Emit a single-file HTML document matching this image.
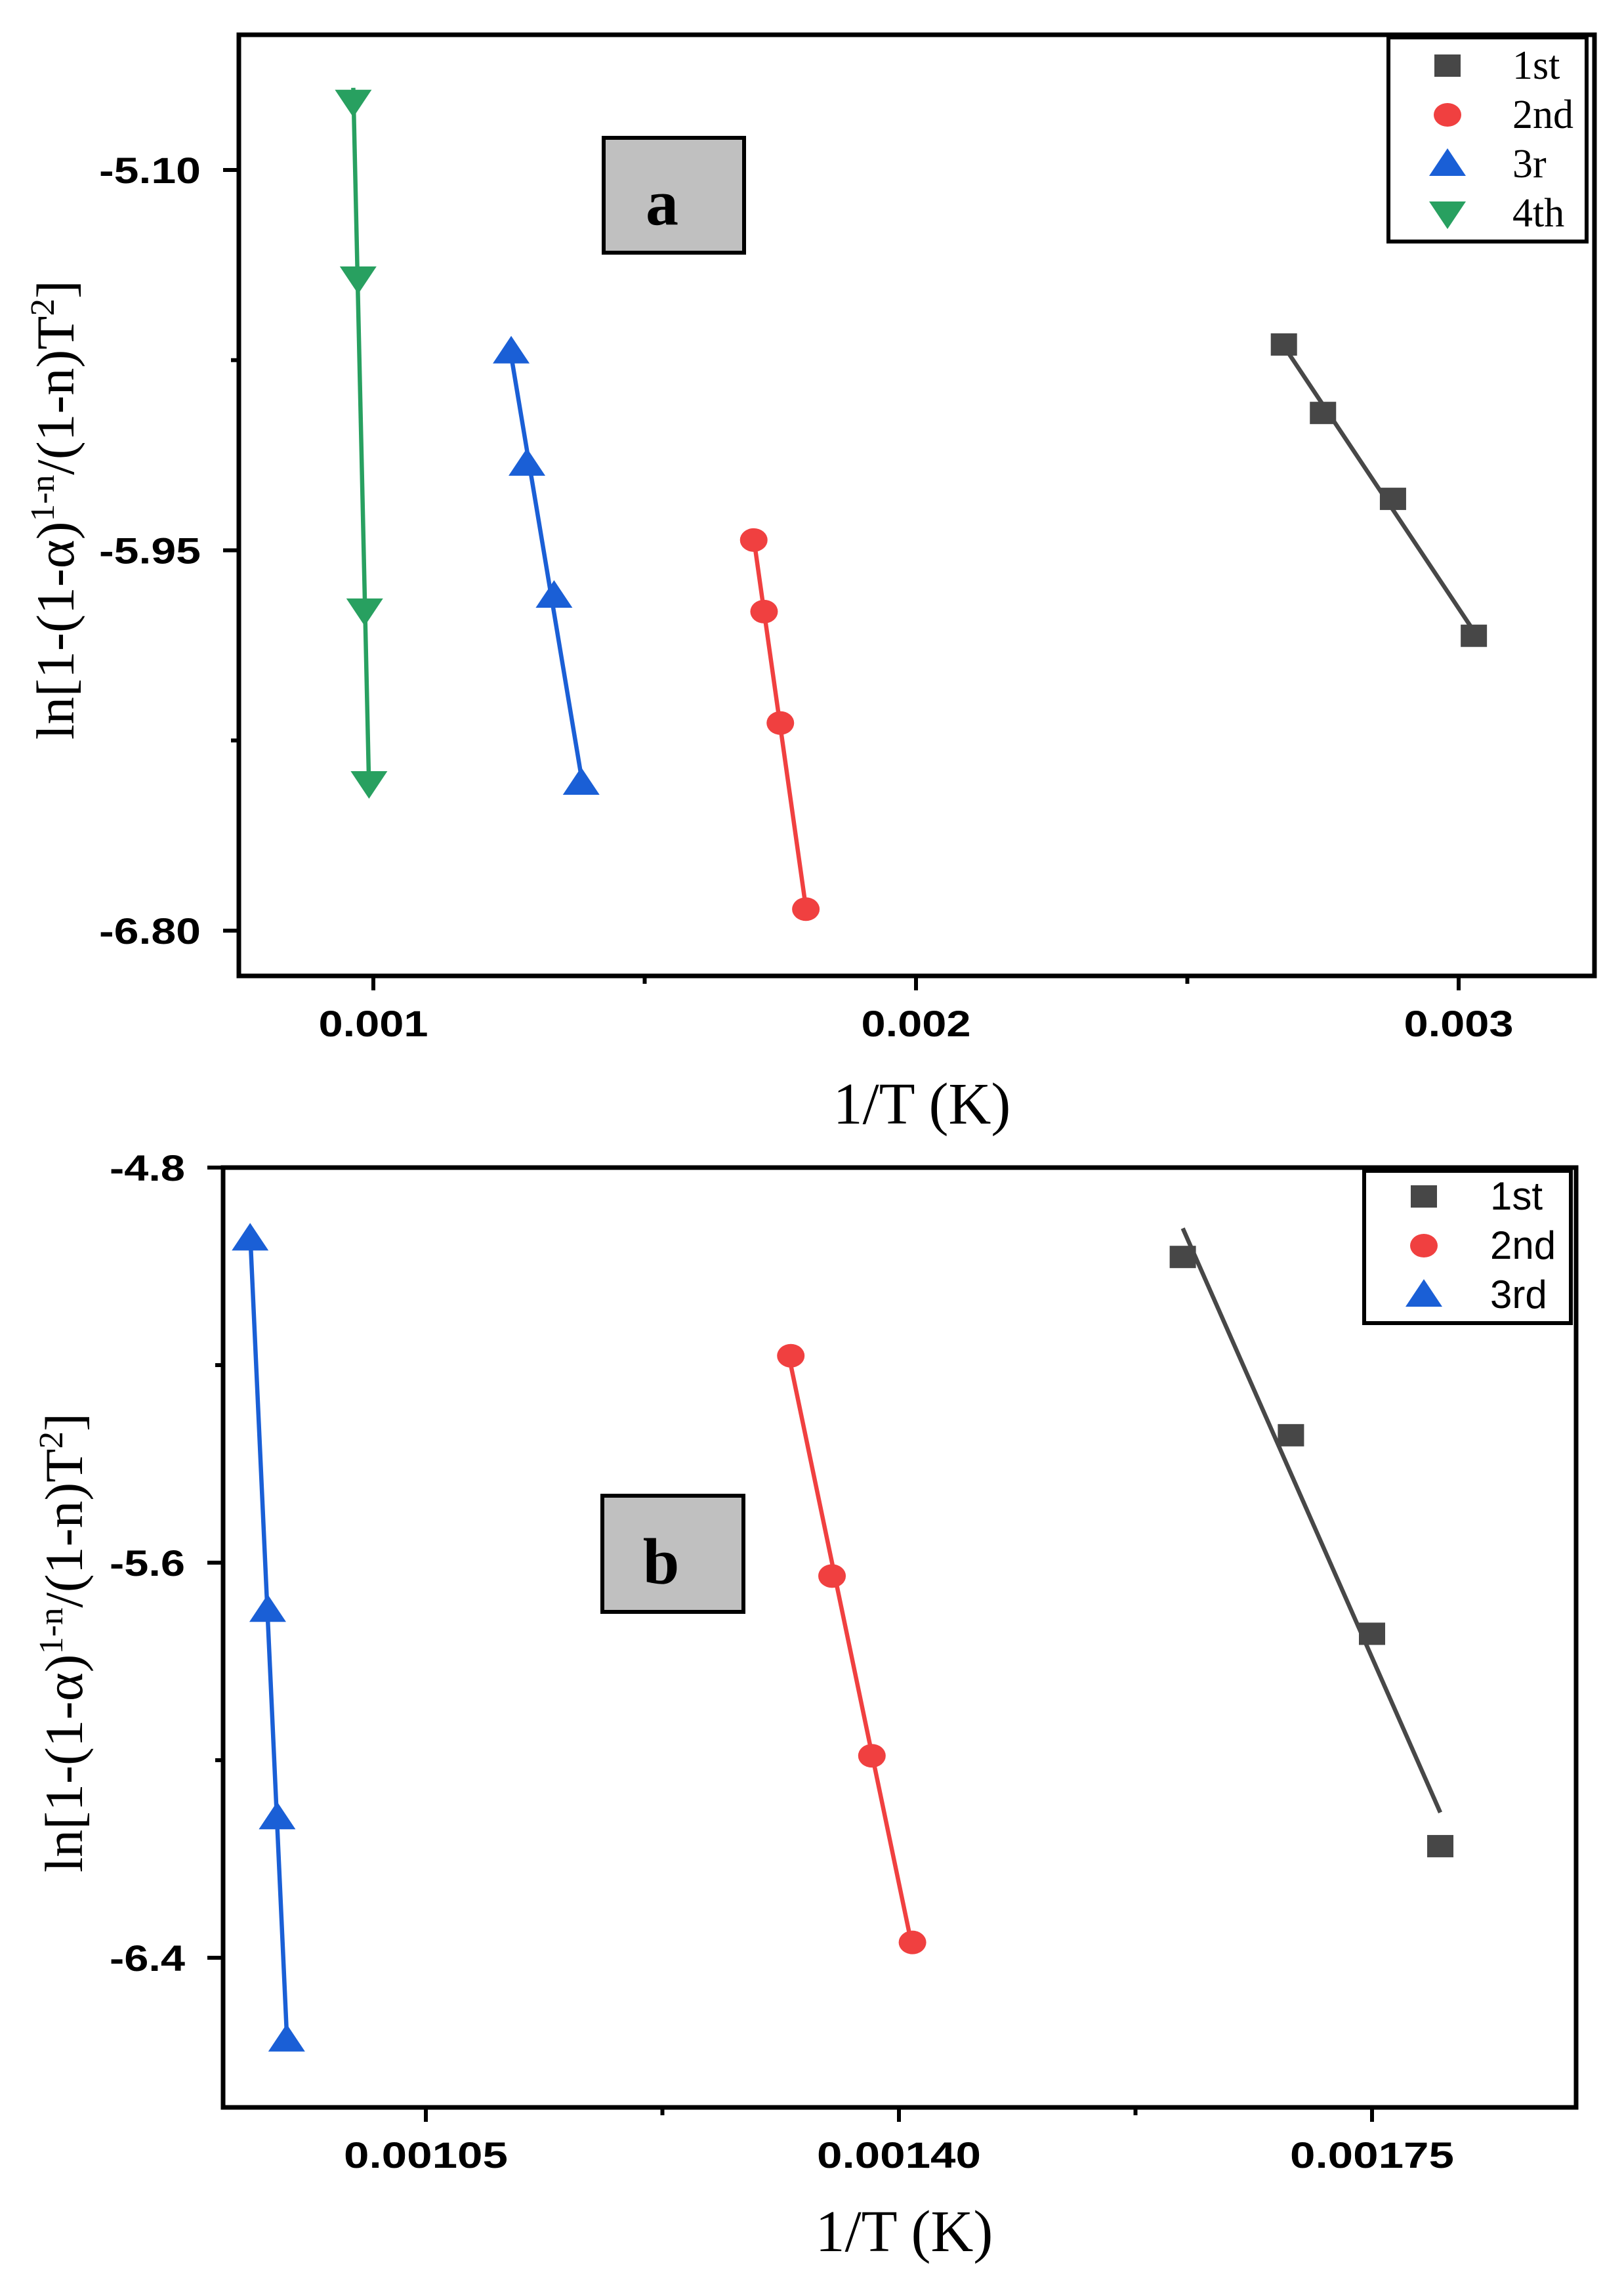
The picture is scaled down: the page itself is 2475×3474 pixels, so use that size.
<!DOCTYPE html>
<html><head><meta charset="utf-8"><style>
html,body{margin:0;padding:0;background:#fff}
svg{display:block}
</style></head><body>
<svg id="fig" xmlns="http://www.w3.org/2000/svg" width="2475" height="3474" viewBox="0 0 2475 3474">
<rect width="2475" height="3474" fill="#fff"/>
</svg>
<script>
// ---- Panel a data ----
const aSeriesNames = ["1st","2nd","3r","4th"];
const a1stX = [0.002678,0.002750,0.002879,0.003028];
const a1stY = [-5.490,-5.643,-5.835,-6.141];
const a2ndX = [0.001701,0.001720,0.001750,0.001797];
const a2ndY = [-5.927,-6.087,-6.336,-6.752];
const a3rX = [0.001254,0.001283,0.001333,0.001383];
const a3rY = [-5.506,-5.757,-6.052,-6.470];
const a4thX = [0.000963,0.000972,0.000984,0.000992];
const a4thY = [-4.947,-5.342,-6.084,-6.470];
const aXTicks = [0.001,0.002,0.003];
const aXTickLabels = ["0.001","0.002","0.003"];
const aYTicks = [-5.10,-5.95,-6.80];
const aYTickLabels = ["-5.10","-5.95","-6.80"];
// ---- Panel b data ----
const bSeriesNames = ["1st","2nd","3rd"];
const b1stX = [0.001610,0.001690,0.001750,0.0018005];
const b1stY = [-4.981,-5.342,-5.744,-6.174];
const b2ndX = [0.001320,0.0013505,0.001380,0.001410];
const b2ndY = [-5.181,-5.627,-5.991,-6.369];
const b3rdX = [0.000920,0.000933,0.000940,0.000947];
const b3rdY = [-4.944,-5.696,-6.116,-6.566];
const bXTicks = [0.00105,0.00140,0.00175];
const bXTickLabels = ["0.00105","0.00140","0.00175"];
const bYTicks = [-4.8,-5.6,-6.4];
const bYTickLabels = ["-4.8","-5.6","-6.4"];

const NS="http://www.w3.org/2000/svg";
const svg=document.getElementById('fig');
function mk(tag,attrs,parent){const e=document.createElementNS(NS,tag);for(const k in attrs)e.setAttribute(k,attrs[k]);(parent||svg).appendChild(e);return e;}
const COLORS={sq:"#474747",ci:"#f04040",up:"#1a5fd6",dn:"#28a060"};

function marker(g,type,cx,cy,name){
  let e;
  if(type==='sq'){e=mk('rect',{x:cx-20,y:cy-17,width:40,height:34,fill:COLORS.sq},g);}
  else if(type==='ci'){e=mk('ellipse',{cx:cx,cy:cy,rx:21,ry:18,fill:COLORS.ci},g);}
  else if(type==='up'){e=mk('polygon',{points:`${cx},${cy-24} ${cx+28},${cy+18} ${cx-28},${cy+18}`,fill:COLORS.up},g);}
  else {e=mk('polygon',{points:`${cx},${cy+24} ${cx+28},${cy-18} ${cx-28},${cy-18}`,fill:COLORS.dn},g);}
  
  
  return e;
}

function panel(P){
  const g=mk('g',{});
  
  
  const X=v=>P.x0px+(v-P.x0v)*P.xs;
  const Y=v=>P.y0px+(v-P.y0v)*P.ys;
  const fr=mk('rect',{x:P.L,y:P.T,width:P.R-P.L,height:P.B-P.T,fill:'none',stroke:'#000','stroke-width':7},g);
  
  
  P.xTicks.forEach((t,i)=>{
    const px=X(t);
    const l=mk('line',{x1:px,y1:P.B,x2:px,y2:P.B+22,stroke:'#000','stroke-width':6},g);
    
    
    const tx=mk('text',{x:px,y:P.B+92,'text-anchor':'middle','font-family':'Liberation Sans, sans-serif','font-weight':'bold','font-size':56,textLength:P.xLabW,lengthAdjust:'spacingAndGlyphs'},g);
    tx.textContent=P.xLabels[i];
    
    
    if(i<P.xTicks.length-1){
      const m=X((P.xTicks[i]+P.xTicks[i+1])/2);
      const ml=mk('line',{x1:m,y1:P.B,x2:m,y2:P.B+12,stroke:'#000','stroke-width':6},g);
      
      
    }
  });
  P.yTicks.forEach((t,i)=>{
    const py=Y(t);
    const l=mk('line',{x1:P.L-24,y1:py,x2:P.L,y2:py,stroke:'#000','stroke-width':6},g);
    
    
    const tx=mk('text',{x:P.L-58,y:py+20,'text-anchor':'end','font-family':'Liberation Sans, sans-serif','font-weight':'bold','font-size':56,textLength:P.yLabW,lengthAdjust:'spacingAndGlyphs'},g);
    tx.textContent=P.yLabels[i];
    
    
    if(i<P.yTicks.length-1){
      const m=Y((P.yTicks[i]+P.yTicks[i+1])/2);
      const ml=mk('line',{x1:P.L-12,y1:m,x2:P.L,y2:m,stroke:'#000','stroke-width':6},g);
      
      
    }
  });
  const xt=mk('text',{x:P.xTitleX,y:P.xTitleY,'text-anchor':'middle','font-family':'Liberation Serif, serif','font-size':90},g);
  xt.textContent='1/T (K)';
  
  
  const yt=mk('text',{x:0,y:0,'text-anchor':'middle','font-family':'Liberation Serif, serif','font-size':82,transform:`translate(${P.yTitleX},${P.yTitleY}) rotate(-90)`,textLength:700,lengthAdjust:'spacingAndGlyphs'},g);
  yt.innerHTML='ln[1-(1-α)<tspan dy="-30" font-size="52">1-n</tspan><tspan dy="30">/(1-n)T</tspan><tspan dy="-30" font-size="52">2</tspan><tspan dy="30">]</tspan>';
  
  
  P.series.forEach(s=>{
    const n=s.x.length;let mx=0,my=0;
    for(let i=0;i<n;i++){mx+=s.x[i];my+=s.y[i];}mx/=n;my/=n;
    let sxy=0,sxx=0;for(let i=0;i<n;i++){sxy+=(s.x[i]-mx)*(s.y[i]-my);sxx+=(s.x[i]-mx)**2;}
    const b=sxy/sxx;const xa=Math.min(...s.x),xb=Math.max(...s.x);
    const ln=mk('line',{x1:X(xa),y1:Y(my+b*(xa-mx)),x2:X(xb),y2:Y(my+b*(xb-mx)),stroke:COLORS[s.m],'stroke-width':6.5},g);
    
    
    for(let i=0;i<n;i++) marker(g,s.m,X(s.x[i]),Y(s.y[i]),P.id+'-point-'+s.name);
  });
  const lg=P.legend;
  const lr=mk('rect',{x:lg.x,y:lg.y,width:lg.w,height:lg.h,fill:'#fff',stroke:'#000','stroke-width':6},g);
  
  
  P.series.slice().sort((a,b)=>a.order-b.order).forEach((s,i)=>{
    const cy=lg.y+lg.first+i*lg.step;
    marker(g,s.m,lg.mx,cy,P.id+'-legend-marker-'+s.name);
    const t=mk('text',{x:lg.tx,y:cy+lg.base,'font-family':lg.font,'font-size':lg.fs},g);
    t.textContent=s.name;
    
    
  });
  const bx=P.box;
  const br=mk('rect',{x:bx.x,y:bx.y,width:bx.w,height:bx.h,fill:'#c0c0c0',stroke:'#000','stroke-width':6},g);
  
  
  const bt=mk('text',{x:bx.x+bx.w/2-18,y:bx.y+bx.h/2+45,'text-anchor':'middle','font-family':'Liberation Serif, serif','font-weight':'bold','font-size':100},g);
  bt.textContent=P.id;
  
  
}

panel({id:'a',L:364,T:53,R:2430,B:1487,
  x0v:0.001,x0px:569,xs:827/0.001,y0v:-5.10,y0px:259,ys:-579.5/0.85,
  xTicks:aXTicks,xLabels:aXTickLabels,yTicks:aYTicks,yLabels:aYTickLabels,xLabW:167,yLabW:155,
  xTitleX:1405,xTitleY:1712,yTitleX:112,yTitleY:777,
  series:[{name:aSeriesNames[0],x:a1stX,y:a1stY,m:'sq',order:0},{name:aSeriesNames[1],x:a2ndX,y:a2ndY,m:'ci',order:1},{name:aSeriesNames[2],x:a3rX,y:a3rY,m:'up',order:2},{name:aSeriesNames[3],x:a4thX,y:a4thY,m:'dn',order:3}],
  legend:{x:2116,y:57,w:302,h:311,first:43,step:75,mx:2206,tx:2305,base:20,fs:62,font:'Liberation Serif, serif'},
  box:{x:920,y:210,w:214,h:175}});

panel({id:'b',L:340,T:1779,R:2402,B:3211,
  x0v:0.00105,x0px:649,xs:721/0.00035,y0v:-4.8,y0px:1779,ys:-602/0.8,
  xTicks:bXTicks,xLabels:bXTickLabels,yTicks:bYTicks,yLabels:bYTickLabels,xLabW:250,yLabW:115,
  xTitleX:1378,xTitleY:3430,yTitleX:125,yTitleY:2503,
  series:[{name:bSeriesNames[0],x:b1stX,y:b1stY,m:'sq',order:0},{name:bSeriesNames[1],x:b2ndX,y:b2ndY,m:'ci',order:1},{name:bSeriesNames[2],x:b3rdX,y:b3rdY,m:'up',order:2}],
  legend:{x:2079,y:1784,w:315,h:232,first:39,step:75,mx:2170,tx:2271,base:20,fs:60,font:'Liberation Sans, sans-serif'},
  box:{x:918,y:2279,w:215,h:177}});
</script>
</body></html>
